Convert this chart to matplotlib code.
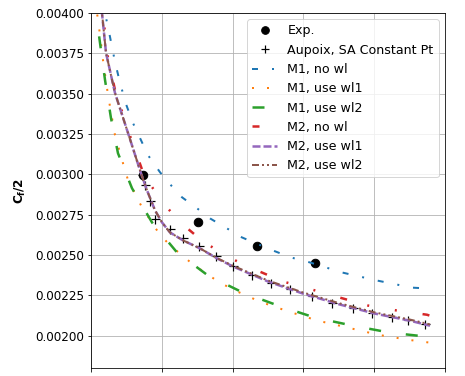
import numpy as np
import matplotlib.pyplot as plt

plt.rcParams['font.size'] = 12
plt.rcParams['lines.scale_dashes'] = False

# experiment and reference
exp_x = [0.73, 1.51, 2.35, 3.16]
exp_y = [0.002995, 0.002702, 0.002553, 0.002448]

aupoix_x = [0.720, 0.763, 0.833, 0.904, 1.116, 1.299, 1.525, 1.766, 2.006, 2.274,
            2.542, 2.811, 3.121, 3.404, 3.701, 3.969, 4.251, 4.477, 4.718]
aupoix_y = [0.002995, 0.002933, 0.002833, 0.002721, 0.002659, 0.002603, 0.002553,
            0.002491, 0.002429, 0.002379, 0.002329, 0.002292, 0.002249, 0.002205,
            0.002174, 0.002143, 0.002118, 0.002099, 0.002075]

# M1
m1_nowl_x = [0.169, 0.198, 0.268, 0.339, 0.410, 0.494, 0.593, 0.805, 0.975, 1.116, 1.285,
             1.497, 1.681, 1.921, 2.133, 2.571, 2.825, 3.093, 3.545, 4.040, 4.534, 4.788]
m1_nowl_y = [0.004083, 0.00400, 0.003853, 0.003697, 0.003567, 0.003436, 0.003318, 0.003119,
             0.003013, 0.002939, 0.002858, 0.002790, 0.002727, 0.002665, 0.002609, 0.002528,
             0.002485, 0.002454, 0.002392, 0.002342, 0.002298, 0.002292]

m1_wl1_x = [0.071, 0.085, 0.127, 0.169, 0.240, 0.339, 0.452, 0.523, 0.720, 0.960, 1.116,
            1.441, 1.794, 2.006, 2.387, 2.797, 3.206, 3.630, 4.054, 4.477, 4.788]
m1_wl1_y = [0.004083, 0.00400, 0.003865, 0.003710, 0.003492, 0.003243, 0.003069, 0.002964,
            0.002796, 0.002634, 0.002560, 0.002442, 0.002336, 0.002286, 0.002211, 0.002149,
            0.002093, 0.002050, 0.002006, 0.001975, 0.001957]

m1_wl2_x = [0.056, 0.071, 0.127, 0.198, 0.282, 0.381, 0.579, 0.862, 1.215, 1.653, 2.147,
            2.641, 3.164, 3.701, 4.223, 4.746, 4.788]
m1_wl2_y = [0.004083, 0.00400, 0.003815, 0.003585, 0.003349, 0.003131, 0.002914, 0.002702,
            0.002516, 0.002373, 0.002267, 0.002187, 0.002112, 0.002062, 0.002019, 0.001994,
            0.001988]

# M2
m2_nowl_x = [0.155, 0.169, 0.226, 0.339, 0.537, 0.749, 0.989, 1.243, 1.582, 1.949, 2.316,
             2.712, 3.121, 3.517, 3.912, 4.336, 4.746, 4.788]
m2_nowl_y = [0.004083, 0.00400, 0.003753, 0.003523, 0.003256, 0.002995, 0.002839, 0.002709,
             0.002584, 0.002485, 0.002410, 0.002336, 0.002286, 0.002236, 0.002187, 0.002155,
             0.002130, 0.002124]

m2_wl1_x = [0.141, 0.155, 0.212, 0.339, 0.523, 0.706, 0.791, 0.904, 1.003, 1.116, 1.299,
            1.540, 1.780, 2.006, 2.500, 2.994, 3.517, 4.011, 4.506, 4.788]
m2_wl1_y = [0.004083, 0.00400, 0.003753, 0.003504, 0.003256, 0.003007, 0.002901, 0.002777,
            0.002702, 0.002640, 0.002591, 0.002541, 0.002479, 0.002429, 0.002336, 0.002261,
            0.002193, 0.002137, 0.002093, 0.002062]

m2_wl2_x = m2_wl1_x
m2_wl2_y = [0.004083, 0.00400, 0.003753, 0.003504, 0.003256, 0.003007, 0.002901, 0.002777,
            0.002702, 0.002640, 0.002591, 0.002541, 0.002481, 0.002433, 0.002342, 0.002268,
            0.002200, 0.002144, 0.002100, 0.002070]

fig = plt.figure(figsize=(465 / 72, 376 / 72), dpi=72)
ax = fig.add_axes([0.1957, 0.0213, 0.7613, 0.9441])

ax.plot(exp_x, exp_y, 'ko', markersize=8.5, label='Exp.')
ax.plot(aupoix_x, aupoix_y, 'k+', markersize=9, markeredgewidth=1.2,
        label='Aupoix, SA Constant Pt')
ax.plot(m1_nowl_x, m1_nowl_y, color='C0', lw=2, linestyle=(0, (6, 14, 2, 14)),
        label='M1, no wl')
ax.plot(m1_wl1_x, m1_wl1_y, color='C1', lw=2, linestyle=(0, (2, 13)),
        label='M1, use wl1')
ax.plot(m1_wl2_x, m1_wl2_y, color='C2', lw=2.5, linestyle=(0, (12, 25)),
        label='M1, use wl2')
ax.plot(m2_nowl_x, m2_nowl_y, color='C3', lw=2.5, linestyle=(0, (7, 21, 2, 26, 2, 26)),
        label='M2, no wl')
ax.plot(m2_wl1_x, m2_wl1_y, color='C4', lw=2.5, linestyle=(0, (8, 3)),
        label='M2, use wl1')
ax.plot(m2_wl2_x, m2_wl2_y, color='C5', lw=2, linestyle=(0, (7, 3, 2, 3, 2, 3)),
        label='M2, use wl2')

ax.set_xlim(0, 5)
ax.set_ylim(0.0018, 0.0040)
ax.set_xticks(np.arange(0, 6, 1))
ax.set_yticks(np.arange(0.002, 0.00401, 0.00025))
ax.yaxis.set_major_formatter(plt.FormatStrFormatter('%.5f'))
ax.tick_params(axis='x', labelbottom=False)
ax.set_ylabel(r'$\mathbf{C_f/2}$', labelpad=7)
ax.grid(True)
ax.legend(loc='upper right', fontsize=12.6, markerscale=0.9)

fig.savefig('out.png', dpi=72)
